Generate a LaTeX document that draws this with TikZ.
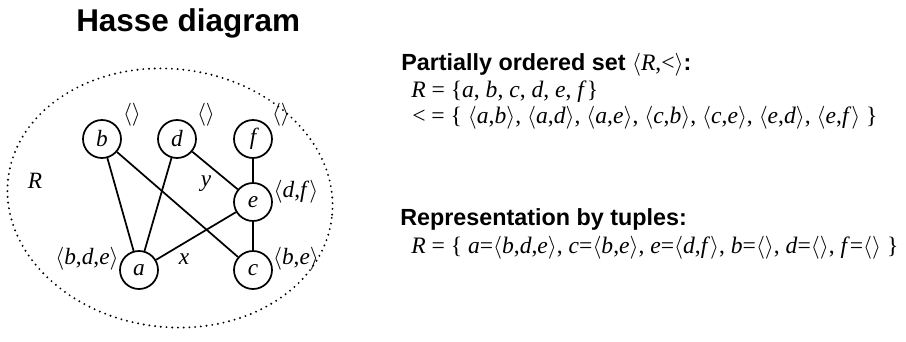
\documentclass[tikz,border=0pt]{standalone}
\usepackage{fontspec}
\setmainfont{Liberation Serif}
\newfontfamily\arialfont{Liberation Sans}
\newcommand{\myl}{\ensuremath{\langle}}
\newcommand{\myr}{\ensuremath{\rangle}}
\newcommand{\vi}[1]{\textit{#1}}
\begin{document}
\begin{tikzpicture}[x=0.75pt,y=-0.75pt,
  elem/.style={circle,draw,line width=1.3pt,minimum size=28.5pt,inner sep=0pt,font=\fontsize{17.5}{20}\selectfont\itshape},
  lbl/.style={inner sep=0pt,font=\fontsize{17.5}{20}\selectfont},
  edge/.style={line width=1.3pt},
  txt/.style={anchor=base west,inner sep=0pt,font=\fontsize{17.7}{20}\selectfont},
  head/.style={anchor=base west,inner sep=0pt,font=\fontsize{17.5}{20}\selectfont\arialfont\bfseries},
  title/.style={anchor=base west,inner sep=0pt,font=\fontsize{23.6}{28}\selectfont\arialfont\bfseries}]
\useasboundingbox (0,0) rectangle (906,342);
% title
\node[title] (ttl) at (76,32) {Hasse diagram};
% set boundary
\begin{scope}[shift={(170,198)},rotate=-7]
\draw[line width=1.6pt,line cap=round,dash pattern=on 0pt off 4.3pt] (0,0) ellipse [x radius=163,y radius=129];
\end{scope}
% elements
\node[elem] (b) at (102,139) {b};
\node[elem] (d) at (177,139) {d};
\node[elem] (f) at (253,139) {f};
\node[elem] (e) at (253,202) {e};
\node[elem] (a) at (139,270) {a};
\node[elem] (c) at (253,270) {c};
% order relation
\draw[edge] (b) -- (a);
\draw[edge] (b) -- (c);
\draw[edge] (d) -- (a);
\draw[edge] (d) -- (e);
\draw[edge] (f) -- (e);
\draw[edge] (e) -- (c);
\draw[edge] (a) -- (e);
% tuple labels
\node[lbl] (tb) at (132,115) {\myl\myr};
\node[lbl] (td) at (206,115) {\myl\myr};
\node[lbl] (tf) at (281,115) {\myl\myr};
\node[lbl] (te) at (296,192) {\myl\vi{d},\vi{f}\myr};
\node[lbl] (ta) at (87,259) {\myl\vi{b},\vi{d},\vi{e}\myr};
\node[lbl] (tc) at (296,259) {\myl\vi{b},\vi{e}\myr};
\node[lbl] (lR) at (35,181) {\vi{R}};
\node[lbl] (ly) at (206,184) {\vi{y}};
\node[lbl] (lx) at (184,259) {\vi{x}};
% right-hand text
\node[head] (h1) at (401,71) {Partially ordered set {\fontsize{17.7}{20}\selectfont\rmfamily\mdseries\myl\vi{R},<\myr}:};
\node[txt] (l1) at (411,97.5) {\vi{R} = \{\vi{a}, \vi{b}, \vi{c}, \vi{d}, \vi{e}, \vi{f}\}};
\node[txt] (l2) at (412,124) {< = \{ \myl\vi{a},\vi{b}\myr, \myl\vi{a},\vi{d}\myr, \myl\vi{a},\vi{e}\myr, \myl\vi{c},\vi{b}\myr, \myl\vi{c},\vi{e}\myr, \myl\vi{e},\vi{d}\myr, \myl\vi{e},\vi{f}\myr\ \}};
\node[head] (h2) at (400,225) {Representation by tuples:};
\node[txt] (l3) at (411,253) {\vi{R} = \{ \vi{a}=\myl\vi{b},\vi{d},\vi{e}\myr, \vi{c}=\myl\vi{b},\vi{e}\myr, \vi{e}=\myl\vi{d},\vi{f}\myr, \vi{b}=\myl\myr, \vi{d}=\myl\myr, \vi{f}=\myl\myr\ \}};
\end{tikzpicture}
\end{document}
